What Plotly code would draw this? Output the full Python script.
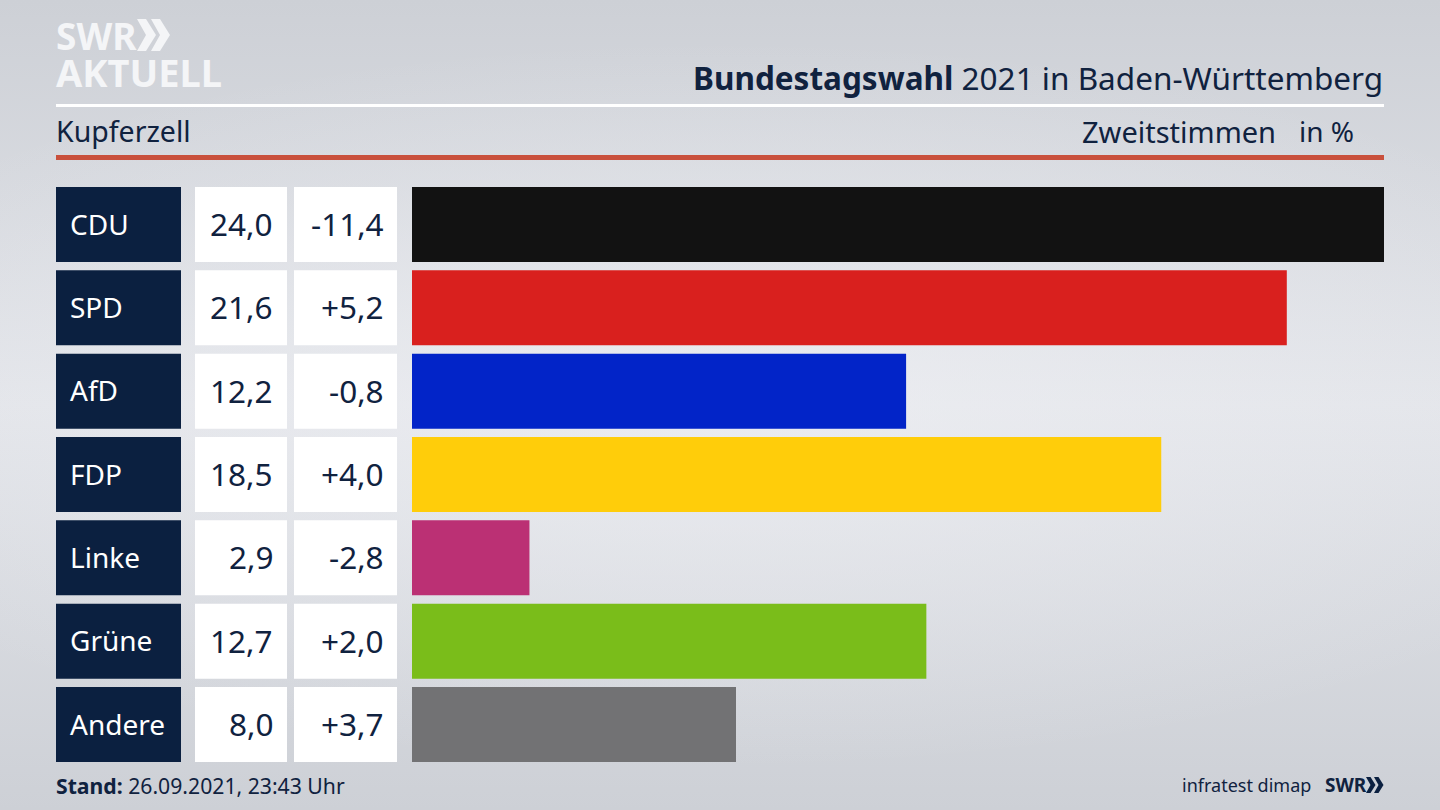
import plotly.graph_objects as go
from plotly.subplots import make_subplots

parties = ["CDU", "SPD", "AfD", "FDP", "Linke", "Grüne", "Andere"]
results = [24.0, 21.6, 12.2, 18.5, 2.9, 12.7, 8.0]
changes = [-11.4, 5.2, -0.8, 4.0, -2.8, 2.0, 3.7]
colors = ["#121212", "#d9201e", "#0224c8", "#ffcd0a", "#bb3074", "#7abd1a", "#727274"]
full_cell = [1, 1, 1, 1, 1, 1, 1]

NAVY = "#0b2040"
TEXT = "#10223f"
LOGO = "#f4f5f7"
FONT = "Noto Sans"
W, H = 1440, 810


def px(x):
    return x / W


def py(y):
    return 1 - y / H


def de(v, signed=False):
    s = f"{v:+.1f}" if signed else f"{v:.1f}"
    return s.replace(".", ",")


fig = make_subplots(rows=1, cols=4, shared_yaxes=True)

for col, color in [(1, NAVY), (2, "white"), (3, "white")]:
    fig.add_trace(go.Bar(y=parties, x=full_cell, orientation="h", width=0.9,
                         marker=dict(color=color, line_width=0), hoverinfo="skip"),
                  row=1, col=col)
fig.add_trace(go.Bar(y=parties, x=results, orientation="h", width=0.9,
                     marker=dict(color=colors, line_width=0), hoverinfo="skip"),
              row=1, col=4)

# column texts
for i, party in enumerate(parties):
    fig.add_annotation(x=0, y=party, xref="x", yref="y", text=party, showarrow=False, yshift=1,
                       xanchor="left", xshift=12, font=dict(color="white", size=28))
    fig.add_annotation(x=1, y=party, xref="x2", yref="y", text=de(results[i]), showarrow=False, yshift=1,
                       xanchor="right", xshift=-12, font=dict(color=TEXT, size=31.5))
    fig.add_annotation(x=1, y=party, xref="x3", yref="y", text=de(changes[i], True), showarrow=False, yshift=1,
                       xanchor="right", xshift=-11, font=dict(color=TEXT, size=31.5))


def label(x, y, text, size, color=TEXT, anchor="left", align="center"):
    fig.add_annotation(x=px(x), y=py(y), xref="paper", yref="paper", text=text, showarrow=False,
                       xanchor=anchor, yanchor="middle", font=dict(color=color, size=size),
                       borderpad=0, align=align)


label(1384, 77, "<b>Bundestagswahl</b> 2021 in Baden-Württemberg", 31.5, anchor="right")
label(55, 131, "Kupferzell", 28.5)
label(1277, 131, "Zweitstimmen", 29, anchor="right")
label(1355, 131, "in %", 28, anchor="right")
label(55, 785, "<b>Stand:</b> 26.09.2021, 23:43 Uhr", 21.2)
label(1312, 785, "infratest dimap", 18, anchor="right")
label(1324, 785, "<b>SWR</b>", 19)
# both logo lines in one text, the base size sets the tight line pitch
label(55, 54, '<b><span style="font-size:37px">SWR</span><br>'
              '<span style="font-size:38px">AKTUELL</span></b>', 28.5, color=LOGO, align="left")

# rules
fig.add_shape(type="rect", xref="paper", yref="paper", x0=px(56), x1=px(1384), y0=py(104), y1=py(107),
              fillcolor="white", line_width=0)
fig.add_shape(type="rect", xref="paper", yref="paper", x0=px(56), x1=px(1384), y0=py(155), y1=py(160),
              fillcolor="#c9503c", line_width=0)

# logo chevrons
for x0, y0, s, color in [(137, 19, 1.0, LOGO), (151, 19, 1.0, LOGO),
                         (1366, 777, 0.5, NAVY), (1374, 777, 0.5, NAVY)]:
    path = f"M {px(x0)} {py(y0)} L {px(x0 + 9 * s)} {py(y0)} L {px(x0 + 19 * s)} {py(y0 + 16 * s)} " \
           f"L {px(x0 + 9 * s)} {py(y0 + 32 * s)} L {px(x0)} {py(y0 + 32 * s)} L {px(x0 + 9 * s)} {py(y0 + 16 * s)} Z"
    fig.add_shape(type="path", xref="paper", yref="paper", path=path, fillcolor=color, line_width=0)

top, bottom = 182.83, 766.17
fig.update_yaxes(range=[6.5, -0.5], domain=[py(bottom), py(top)], visible=False, type="category",
                 categoryorder="array", categoryarray=parties)
for name, x0, x1, rng in [("xaxis", 56, 181, [0, 1]), ("xaxis2", 195, 287, [0, 1]),
                          ("xaxis3", 294, 397, [0, 1]), ("xaxis4", 412, 1384, [0, 24])]:
    fig.layout[name].update(domain=[px(x0), px(x1)], range=rng, visible=False, fixedrange=True)

fig.update_layout(
    width=W, height=H,
    margin=dict(l=0, r=0, t=0, b=0),
    showlegend=False,
    barmode="overlay",
    paper_bgcolor="rgba(0,0,0,0)",
    plot_bgcolor="rgba(0,0,0,0)",
    font=dict(family=FONT, color=TEXT),
)

page_style = ("document.body.style.margin='0';"
              "document.body.style.background='radial-gradient(ellipse 70% 45% at 50% 50%, "
              "rgba(240,241,245,0.65), rgba(240,241,245,0)), "
              "linear-gradient(#cdd0d6, #e2e4e9 50%, #cdd0d6)';"
              "document.body.style.height='810px';")
fig.write_html("out.html", post_script=page_style, config={"displayModeBar": False})
